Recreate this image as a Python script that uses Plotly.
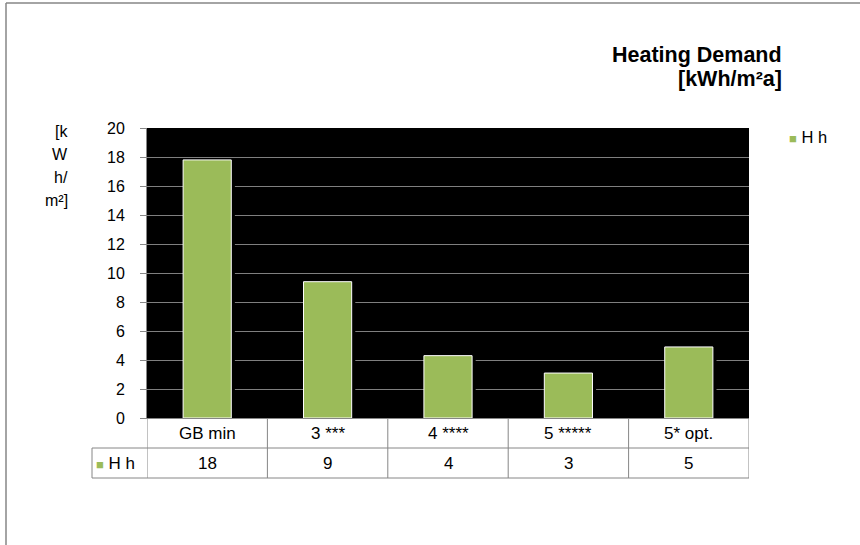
import plotly.graph_objects as go

# ---- data ----
categories = ["GB min", "3 ***", "4 ****", "5 *****", "5* opt."]
heating_demand = [17.8, 9.4, 4.3, 3.1, 4.9]
series_name = "H h"
title_lines = ["Heating Demand", "[kWh/m²a]"]
y_title_lines = ["[k", "W", "h/", "m²]"]
y_ticks = [0, 2, 4, 6, 8, 10, 12, 14, 16, 18, 20]

# ---- styling ----
W, H = 860, 545
L, R, T, B = 147, 111, 128, 127
PW, PH = W - L - R, H - T - B
GREEN = "#9BBB59"
GRAY = "#868686"
FONT = "Liberation Sans, Arial, sans-serif"


def px_x(px):  # pixel -> paper x
    return (px - L) / PW


def px_y(py):  # pixel -> paper y
    return (H - B - py) / PH


fig = go.Figure()
# dark shadow to the right of each bar (masks the gridlines as in the original)
fig.add_trace(go.Bar(
    x=categories, y=heating_demand, name="shadow",
    marker=dict(color="black", line=dict(width=0)),
    width=0.43, offset=-0.2, showlegend=False, hoverinfo="skip",
))
fig.add_trace(go.Bar(
    x=categories, y=heating_demand, name=series_name,
    marker=dict(color=GREEN, line=dict(color="white", width=1)),
    width=0.4, offset=-0.2, showlegend=False,
))

fig.update_layout(
    width=W, height=H, barmode="overlay",
    margin=dict(l=L, r=R, t=T, b=B),
    paper_bgcolor="white", plot_bgcolor="black",
    font=dict(family=FONT, size=16, color="black"),
    xaxis=dict(
        type="category", range=[-0.5, len(categories) - 0.5],
        showticklabels=False, showgrid=False, zeroline=False,
        showline=True, linecolor=GRAY, linewidth=1, ticks="",
    ),
    yaxis=dict(
        range=[0, 20], tickvals=y_ticks, ticks="outside", ticklen=6,
        tickcolor=GRAY, showline=True, linecolor=GRAY, linewidth=1,
        showgrid=True, gridcolor="#7f7f7f", gridwidth=1, zeroline=False,
        tickfont=dict(size=16), ticklabelstandoff=12,
    ),
)

shapes = []
annotations = []
row1_top, row1_bot, row2_bot = 418, 448, 478
leg_left = 92
n = len(categories)
# vertical table lines at category boundaries
for i in range(n + 1):
    shapes.append(dict(type="line", xref="x", yref="paper",
                       x0=i - 0.5, x1=i - 0.5,
                       y0=px_y(row1_top), y1=px_y(row2_bot),
                       line=dict(color=GRAY, width=1)))
# horizontal table lines
for yy in (row1_bot, row2_bot):
    shapes.append(dict(type="line", xref="paper", yref="paper",
                       x0=px_x(leg_left), x1=1, y0=px_y(yy), y1=px_y(yy),
                       line=dict(color=GRAY, width=1)))
# legend column left edge
shapes.append(dict(type="line", xref="paper", yref="paper",
                   x0=px_x(leg_left), x1=px_x(leg_left),
                   y0=px_y(row1_bot), y1=px_y(row2_bot),
                   line=dict(color=GRAY, width=1)))
# outer chart frame (top and left)
shapes.append(dict(type="line", xref="paper", yref="paper",
                   x0=px_x(6), x1=px_x(W + 5), y0=px_y(3), y1=px_y(3),
                   line=dict(color=GRAY, width=1.5)))
shapes.append(dict(type="line", xref="paper", yref="paper",
                   x0=px_x(6), x1=px_x(6), y0=px_y(3), y1=px_y(H + 5),
                   line=dict(color=GRAY, width=1.5)))


def ann(x, y, text, size, xref="paper", xanchor="center", bold=False):
    if bold:
        text = f"<b>{text}</b>"
    return dict(xref=xref, yref="paper", x=x, y=y, xanchor=xanchor,
                yanchor="middle", text=text, showarrow=False,
                font=dict(size=size, color="black"))


# table text
for c, v in zip(categories, heating_demand):
    annotations.append(ann(c, px_y((row1_top + row1_bot) / 2), c, 17, xref="x"))
    annotations.append(ann(c, px_y((row1_bot + row2_bot) / 2),
                           str(int(round(v))), 17, xref="x"))
annotations.append(ann(px_x(leg_left + 2), px_y((row1_bot + row2_bot) / 2),
                       f'<span style="color:{GREEN};font-size:13px">■</span> {series_name}',
                       17, xanchor="left"))
# legend (top right)
annotations.append(ann(px_x(787), px_y(137),
                       f'<span style="color:{GREEN};font-size:13px">■</span> {series_name}',
                       16.5, xanchor="left"))
# title (two right-aligned bold lines)
for k, t in enumerate(title_lines):
    annotations.append(ann(px_x(784), px_y(55 + 24.5 * k), t, 21.5,
                           xanchor="right", bold=True))
# y axis title, stacked
for k, t in enumerate(y_title_lines):
    annotations.append(ann(px_x(70), px_y(131 + 23 * k), t, 16,
                           xanchor="right"))

fig.update_layout(shapes=shapes, annotations=annotations)
fig.write_html("out.html")
